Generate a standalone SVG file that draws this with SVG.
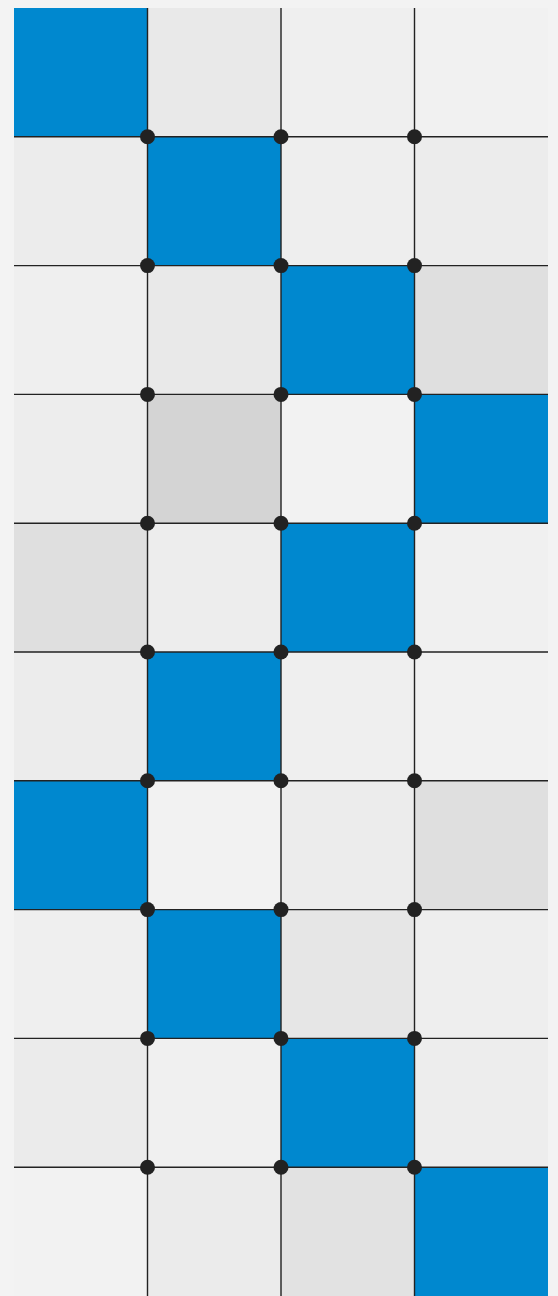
<svg xmlns="http://www.w3.org/2000/svg" width="558" height="1296" viewBox="0 0 558 1296">
<style>
.b{fill:#0088cf}
.l{stroke:#222;stroke-width:1.4;fill:none}
.d{fill:#222}
</style>
<rect width="558" height="1296" fill="#f3f3f3"/>
<g id="cells">
<!-- row 0 -->
<rect id="r0c0" class="b" x="14" y="8" width="133.5" height="128.8"/>
<rect id="r0c1" x="147.5" y="8" width="133.5" height="128.8" fill="#e9e9e9"/>
<rect id="r0c2" x="281" y="8" width="133.5" height="128.8" fill="#efefef"/>
<rect id="r0c3" x="414.5" y="8" width="133.5" height="128.8" fill="#f1f1f1"/>
<!-- row 1 -->
<rect id="r1c0" x="14" y="136.8" width="133.5" height="128.8" fill="#ececec"/>
<rect id="r1c1" class="b" x="147.5" y="136.8" width="133.5" height="128.8"/>
<rect id="r1c2" x="281" y="136.8" width="133.5" height="128.8" fill="#eeeeee"/>
<rect id="r1c3" x="414.5" y="136.8" width="133.5" height="128.8" fill="#ececec"/>
<!-- row 2 -->
<rect id="r2c0" x="14" y="265.6" width="133.5" height="128.8" fill="#efefef"/>
<rect id="r2c1" x="147.5" y="265.6" width="133.5" height="128.8" fill="#e9e9e9"/>
<rect id="r2c2" class="b" x="281" y="265.6" width="133.5" height="128.8"/>
<rect id="r2c3" x="414.5" y="265.6" width="133.5" height="128.8" fill="#dfdfdf"/>
<!-- row 3 -->
<rect id="r3c0" x="14" y="394.4" width="133.5" height="128.8" fill="#ededed"/>
<rect id="r3c1" x="147.5" y="394.4" width="133.5" height="128.8" fill="#d4d4d4"/>
<rect id="r3c2" x="281" y="394.4" width="133.5" height="128.8" fill="#f2f2f2"/>
<rect id="r3c3" class="b" x="414.5" y="394.4" width="133.5" height="128.8"/>
<!-- row 4 -->
<rect id="r4c0" x="14" y="523.2" width="133.5" height="128.8" fill="#dfdfdf"/>
<rect id="r4c1" x="147.5" y="523.2" width="133.5" height="128.8" fill="#ededed"/>
<rect id="r4c2" class="b" x="281" y="523.2" width="133.5" height="128.8"/>
<rect id="r4c3" x="414.5" y="523.2" width="133.5" height="128.8" fill="#f0f0f0"/>
<!-- row 5 -->
<rect id="r5c0" x="14" y="652" width="133.5" height="128.8" fill="#ececec"/>
<rect id="r5c1" class="b" x="147.5" y="652" width="133.5" height="128.8"/>
<rect id="r5c2" x="281" y="652" width="133.5" height="128.8" fill="#efefef"/>
<rect id="r5c3" x="414.5" y="652" width="133.5" height="128.8" fill="#f1f1f1"/>
<!-- row 6 -->
<rect id="r6c0" class="b" x="14" y="780.8" width="133.5" height="128.8"/>
<rect id="r6c1" x="147.5" y="780.8" width="133.5" height="128.8" fill="#f2f2f2"/>
<rect id="r6c2" x="281" y="780.8" width="133.5" height="128.8" fill="#ececec"/>
<rect id="r6c3" x="414.5" y="780.8" width="133.5" height="128.8" fill="#dfdfdf"/>
<!-- row 7 -->
<rect id="r7c0" x="14" y="909.6" width="133.5" height="128.8" fill="#efefef"/>
<rect id="r7c1" class="b" x="147.5" y="909.6" width="133.5" height="128.8"/>
<rect id="r7c2" x="281" y="909.6" width="133.5" height="128.8" fill="#e6e6e6"/>
<rect id="r7c3" x="414.5" y="909.6" width="133.5" height="128.8" fill="#eeeeee"/>
<!-- row 8 -->
<rect id="r8c0" x="14" y="1038.4" width="133.5" height="128.8" fill="#ebebeb"/>
<rect id="r8c1" x="147.5" y="1038.4" width="133.5" height="128.8" fill="#f0f0f0"/>
<rect id="r8c2" class="b" x="281" y="1038.4" width="133.5" height="128.8"/>
<rect id="r8c3" x="414.5" y="1038.4" width="133.5" height="128.8" fill="#ededed"/>
<!-- row 9 -->
<rect id="r9c0" x="14" y="1167.2" width="133.5" height="128.8" fill="#f2f2f2"/>
<rect id="r9c1" x="147.5" y="1167.2" width="133.5" height="128.8" fill="#ebebeb"/>
<rect id="r9c2" x="281" y="1167.2" width="133.5" height="128.8" fill="#e2e2e2"/>
<rect id="r9c3" class="b" x="414.5" y="1167.2" width="133.5" height="128.8"/>
</g>
<g id="lines" class="l">
<path d="M147.5 8V1296M281 8V1296M414.5 8V1296"/>
<path d="M14 136.8H548M14 265.6H548M14 394.4H548M14 523.2H548M14 652H548M14 780.8H548M14 909.6H548M14 1038.4H548M14 1167.2H548"/>
</g>
<g id="dots" class="d">
<circle cx="147.5" cy="136.8" r="7.5"/><circle cx="281" cy="136.8" r="7.5"/><circle cx="414.5" cy="136.8" r="7.5"/>
<circle cx="147.5" cy="265.6" r="7.5"/><circle cx="281" cy="265.6" r="7.5"/><circle cx="414.5" cy="265.6" r="7.5"/>
<circle cx="147.5" cy="394.4" r="7.5"/><circle cx="281" cy="394.4" r="7.5"/><circle cx="414.5" cy="394.4" r="7.5"/>
<circle cx="147.5" cy="523.2" r="7.5"/><circle cx="281" cy="523.2" r="7.5"/><circle cx="414.5" cy="523.2" r="7.5"/>
<circle cx="147.5" cy="652" r="7.5"/><circle cx="281" cy="652" r="7.5"/><circle cx="414.5" cy="652" r="7.5"/>
<circle cx="147.5" cy="780.8" r="7.5"/><circle cx="281" cy="780.8" r="7.5"/><circle cx="414.5" cy="780.8" r="7.5"/>
<circle cx="147.5" cy="909.6" r="7.5"/><circle cx="281" cy="909.6" r="7.5"/><circle cx="414.5" cy="909.6" r="7.5"/>
<circle cx="147.5" cy="1038.4" r="7.5"/><circle cx="281" cy="1038.4" r="7.5"/><circle cx="414.5" cy="1038.4" r="7.5"/>
<circle cx="147.5" cy="1167.2" r="7.5"/><circle cx="281" cy="1167.2" r="7.5"/><circle cx="414.5" cy="1167.2" r="7.5"/>
</g>
</svg>
